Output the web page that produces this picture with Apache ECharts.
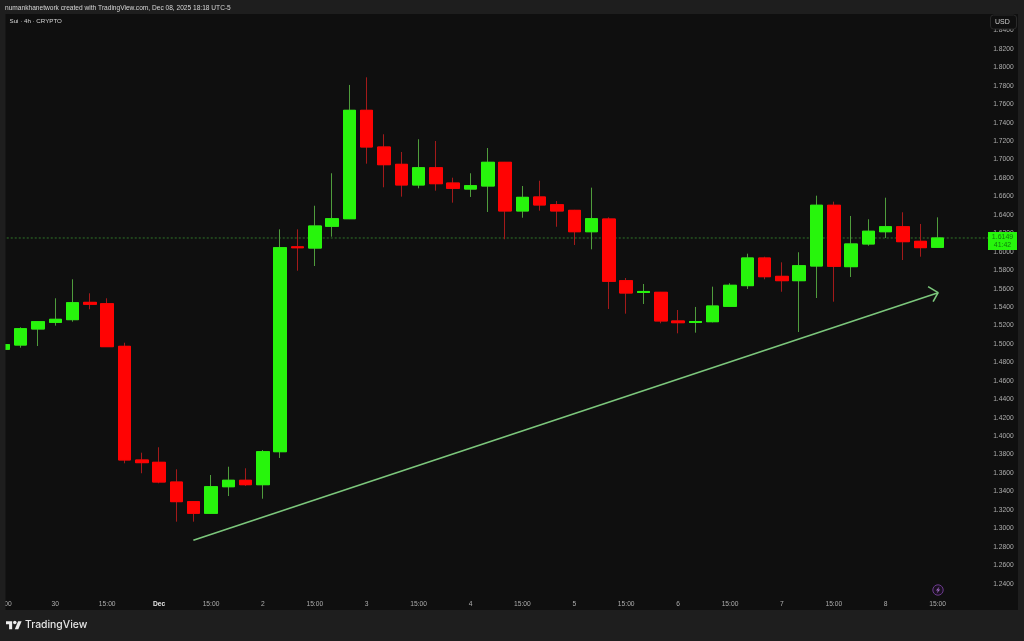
<!DOCTYPE html>
<html>
<head>
<meta charset="utf-8">
<style>html,body{margin:0;padding:0;background:#0f0f0f}#c{width:1024px;height:641px}</style>
<script src="https://cdn.jsdelivr.net/npm/echarts@6/dist/echarts.min.js"></script>
</head>
<body>
<div id="c"></div>
<script>
const barLabels = ['15:00','','','30','','','15:00','','','Dec','','','15:00','','','2','','','15:00','','','3','','','15:00','','','4','','','15:00','','','5','','','15:00','','','6','','','15:00','','','7','','','15:00','','','8','','','15:00','','',''];
const opens  = [1.4943,1.4989,1.5163,1.5235,1.5264,1.5452,1.5437,1.4975,1.3742,1.3717,1.3503,1.3290,1.3164,1.3452,1.3522,1.3474,1.3832,1.6054,1.6041,1.6277,1.6359,1.7535,1.7137,1.6949,1.6725,1.6912,1.6746,1.6681,1.6714,1.6971,1.6443,1.6595,1.6511,1.6450,1.6218,1.6356,1.5687,1.5559,1.5561,1.5250,1.5233,1.5242,1.5409,1.5633,1.5933,1.5734,1.5687,1.5846,1.6505,1.5839,1.6085,1.6218,1.6272,1.6114,1.6049];
const closes = [1.4993,1.5166,1.5242,1.5268,1.5448,1.5431,1.4971,1.3742,1.3713,1.3503,1.3290,1.3164,1.3452,1.3522,1.3474,1.3832,1.6045,1.6044,1.6280,1.6359,1.7535,1.7137,1.6945,1.6725,1.6912,1.6739,1.6689,1.6717,1.6971,1.6443,1.6591,1.6508,1.6443,1.6218,1.6359,1.5680,1.5553,1.5570,1.5250,1.5231,1.5244,1.5412,1.5637,1.5933,1.5730,1.5687,1.5849,1.6505,1.5843,1.6085,1.6223,1.6272,1.6110,1.6045,1.6150];
const lows   = [1.4943,1.4960,1.4978,1.5199,1.5242,1.5377,1.4971,1.3706,1.3598,1.3489,1.3073,1.3073,1.3160,1.3351,1.3460,1.3322,1.3764,1.5795,1.5846,1.6164,1.6355,1.6956,1.6700,1.6598,1.6689,1.6663,1.6533,1.6595,1.6432,1.6136,1.6370,1.6446,1.6272,1.6074,1.6027,1.5380,1.5329,1.5434,1.5225,1.5116,1.5123,1.5235,1.5405,1.5597,1.5702,1.5567,1.5130,1.5499,1.5459,1.5727,1.6066,1.6150,1.5911,1.5947,1.6045];
const highs  = [1.4993,1.5181,1.5247,1.5496,1.5702,1.5550,1.5496,1.5014,1.3821,1.3880,1.3641,1.3295,1.3579,1.3669,1.3652,1.3850,1.6244,1.6244,1.6500,1.6852,1.7810,1.7893,1.7275,1.7083,1.7221,1.7202,1.6804,1.6852,1.7126,1.6975,1.6714,1.6771,1.6551,1.6455,1.6696,1.6374,1.5716,1.5651,1.5565,1.5369,1.5402,1.5622,1.5659,1.5980,1.5947,1.5886,1.5995,1.6609,1.6544,1.6389,1.6353,1.6587,1.6429,1.6302,1.6374];
const priceTicks = [1.24,1.26,1.28,1.30,1.32,1.34,1.36,1.38,1.40,1.42,1.44,1.46,1.48,1.50,1.52,1.54,1.56,1.58,1.60,1.62,1.64,1.66,1.68,1.70,1.72,1.74,1.76,1.78,1.80,1.82,1.84];
const lastPrice = 1.6150;
const lastX = [0,58];
const trendX = [11.48,54.53];
const trendY = [1.2871,1.5557];
const arrowX = [53.95,54.53,54.24];
const arrowY = [1.5622,1.5557,1.5459];

const font = '"Liberation Sans", Arial, sans-serif';
const full = opens.map((o,i)=>[o,closes[i],lows[i],highs[i]]);
const bodies = opens.map((o,i)=>[o,closes[i],Math.min(o,closes[i]),Math.max(o,closes[i])]);
const GREEN='#27f50c', RED='#ff0303';

const chart = echarts.init(document.getElementById('c'),null,{renderer:'canvas'});
chart.setOption({
  animation:false,
  backgroundColor:'#0f0f0f',
  grid:{left:-5.25,top:14,width:1003.4,height:596,containLabel:false,outerBoundsMode:'none'},
  xAxis:[
    {type:'category',data:barLabels,boundaryGap:true,
     axisLine:{show:false},axisTick:{show:false},splitLine:{show:false},
     axisLabel:{inside:true,margin:2.5,interval:0,hideOverlap:false,showMinLabel:true,showMaxLabel:true,
       color:'#aeaeae',fontSize:6.7,fontFamily:font,
       formatter:v=>v==='Dec'?'{b|Dec}':v,
       rich:{b:{fontWeight:'bold',color:'#e6e6e6',fontSize:6.7,fontFamily:font}}}},
    {type:'value',min:0,max:58,show:false,splitLine:{show:false}}
  ],
  yAxis:{type:'value',position:'right',min:1.21148,max:1.85796,scale:true,
    axisLine:{show:false},axisTick:{show:false},splitLine:{show:false},
    axisLabel:{customValues:priceTicks,margin:-5,align:'left',color:'#aeaeae',fontSize:6.7,fontFamily:font,
      formatter:v=>v.toFixed(4)}},
  series:[
    {type:'line',name:'last',xAxisIndex:1,data:lastX.map(x=>[x,lastPrice]),showSymbol:false,z:2,silent:true,
     lineStyle:{color:'#2f7529',type:[2,2],width:1},
     markPoint:{silent:true,symbol:'rect',symbolSize:[29,18],symbolOffset:[4.35,3],z:20,
       itemStyle:{color:GREEN},
       label:{show:true,position:'inside',formatter:'1.6149\n41:42',color:'#127a0e',fontSize:7,lineHeight:8,fontFamily:font},
       data:[{coord:[lastX[1],lastPrice]}]}},
    {type:'candlestick',name:'wicks',data:full,barWidth:13,z:3,
     itemStyle:{color:GREEN,color0:RED,borderColor:'#4f9c3c',borderColor0:'#a31a1a',borderWidth:1}},
    {type:'candlestick',name:'bodies',data:bodies,barWidth:13,z:4,
     itemStyle:{color:GREEN,color0:RED,borderColor:GREEN,borderColor0:RED,borderWidth:1}},
    {type:'line',name:'trend',xAxisIndex:1,data:trendX.map((x,i)=>[x,trendY[i]]),showSymbol:false,z:5,silent:true,
     lineStyle:{color:'#7cc77c',width:1.6}},
    {type:'line',name:'arrow',xAxisIndex:1,data:arrowX.map((x,i)=>[x,arrowY[i]]),showSymbol:false,z:5,silent:true,
     lineStyle:{color:'#7cc77c',width:1.6}}
  ],
  graphic:{elements:[
    {type:'rect',z:50,silent:true,shape:{x:0,y:0,width:1024,height:14},style:{fill:'#1e1e1e'}},
    {type:'rect',z:50,silent:true,shape:{x:0,y:610,width:1024,height:31},style:{fill:'#1e1e1e'}},
    {type:'rect',z:50,silent:true,shape:{x:0,y:0,width:5.5,height:641},style:{fill:'#1e1e1e'}},
    {type:'rect',z:50,silent:true,shape:{x:1018,y:0,width:6,height:641},style:{fill:'#1e1e1e'}},
    {type:'text',z:60,silent:true,x:5,y:4.5,style:{text:'numankhanetwork created with TradingView.com, Dec 08, 2025 18:18 UTC-5',fill:'#d6d6d6',font:'6.6px '+font}},
    {type:'text',z:60,silent:true,x:9.5,y:18.5,style:{text:'Sui · 4h · CRYPTO',fill:'#d6d6d6',font:'6.2px '+font}},
    {type:'rect',z:60,silent:true,shape:{x:990.5,y:15,width:26,height:14,r:3},style:{fill:'#0f0f0f',stroke:'#2a2a2a',lineWidth:1}},
    {type:'text',z:61,silent:true,x:995,y:18.5,style:{text:'USD',fill:'#cfcfcf',font:'7px '+font}},
    {type:'circle',z:60,silent:true,shape:{cx:938,cy:590,r:5.2},style:{fill:'#1a1020',stroke:'#6b3a8c',lineWidth:1}},
    {type:'polygon',z:61,silent:true,shape:{points:[[939.5,586.5],[936,590.6],[938,590.6],[936.6,593.6],[940.2,589.4],[938.2,589.4]]},style:{fill:'#a06cc4'}},
    {type:'group',z:60,x:6,y:619.5,scaleX:0.44,scaleY:0.44,silent:true,children:[
      {type:'polygon',z:60,silent:true,shape:{points:[[0,4],[14,4],[14,22],[7,22],[7,11],[0,11]]},style:{fill:'#ececec'}},
      {type:'polygon',z:60,silent:true,shape:{points:[[20,22],[27.5,4],[35.5,4],[28,22]]},style:{fill:'#ececec'}},
      {type:'circle',z:60,silent:true,shape:{cx:20,cy:7,r:4},style:{fill:'#ececec'}}
    ]},
    {type:'text',z:60,silent:true,x:25,y:620,style:{text:'TradingView',fill:'#e4e4e4',font:'500 10.4px Inter, '+font}}
  ]}
});
</script>
</body>
</html>
